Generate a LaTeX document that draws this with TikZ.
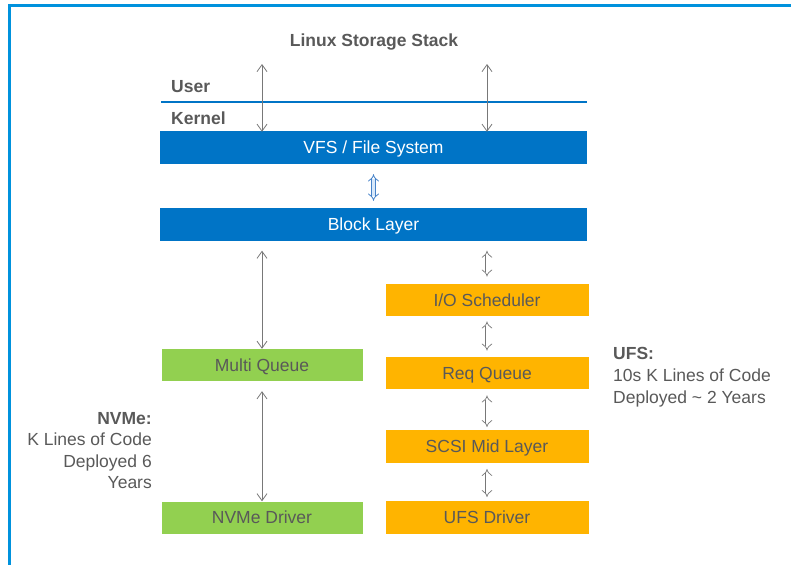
\documentclass[tikz,border=0pt]{standalone}
\usepackage{fontspec}
\setmainfont{Liberation Sans}
\usetikzlibrary{arrows.meta}
\definecolor{frameblue}{RGB}{0,146,221}
\definecolor{boxblue}{RGB}{0,116,198}
\definecolor{boxgreen}{RGB}{146,208,80}
\definecolor{boxorange}{RGB}{255,180,0}
\definecolor{txtgray}{RGB}{89,89,89}
\definecolor{arrgray}{RGB}{120,120,120}
\definecolor{arrblue}{RGB}{70,130,200}
\definecolor{arrbluefill}{RGB}{215,232,250}
\begin{document}
\begin{tikzpicture}[x=1pt,y=-1pt,
  font=\fontsize{17.5}{21.5}\selectfont,
  oneline/.style={text height=12.5pt, text depth=0pt},
  layer/.style={oneline, minimum width=427pt, minimum height=33pt, inner sep=0pt, fill=boxblue, text=white},
  greenbox/.style={oneline, minimum width=201pt, minimum height=32pt, inner sep=0pt, fill=boxgreen, text=txtgray},
  orangebox/.style={oneline, minimum width=203pt, minimum height=32.5pt, inner sep=0pt, fill=boxorange, text=txtgray},
  label/.style={text=txtgray, inner sep=0pt},
  boldlabel/.style={label, oneline, font=\fontsize{17.5}{21.5}\selectfont\bfseries},
  longarr/.style={draw=arrgray, line width=0.8pt, {Straight Barb[length=7pt,width=10pt]}-{Straight Barb[length=7pt,width=10pt]}},
  dblarr/.style={draw=arrgray, line width=0.7pt, double=white, double distance=3pt, {Implies}-{Implies}},
  bluedbl/.style={draw=arrblue, line width=0.8pt, double=arrbluefill, double distance=3pt, {Implies}-{Implies}}
]
\useasboundingbox (0,0) rectangle (791,565);
% frame
\draw[frameblue, line width=3pt] (791,5.5) -- (9.5,5.5) -- (9.5,565);

% title and user/kernel
\node[boldlabel] (title) at (374,40.5) {Linux Storage Stack};
\node[boldlabel, anchor=west] (user) at (171,86) {User};
\node[boldlabel, anchor=west] (kernel) at (171,118) {Kernel};
\coordinate (ukL) at (161,102);
\coordinate (ukR) at (587,102);
\draw[boxblue, line width=2.5pt] (ukL) -- (ukR);

% boxes
\node[layer] (vfs) at (373.5,147) {VFS / File System};
\node[layer] (block) at (373.5,224.5) {Block Layer};
\node[orangebox] (iosched) at (487,300) {I/O Scheduler};
\node[orangebox] (reqq) at (487,373) {Req Queue};
\node[orangebox] (scsi) at (487,446.5) {SCSI Mid Layer};
\node[orangebox] (ufsdrv) at (487,517.5) {UFS Driver};
\node[greenbox] (mq) at (262,365) {Multi Queue};
\node[greenbox] (nvmedrv) at (262,517.5) {NVMe Driver};

% side labels
\node[label, anchor=east, align=right] (nvmetxt) at (152,450.5) {\textbf{NVMe:}\\K Lines of Code\\Deployed 6\\Years};
\node[label, anchor=west, align=left, font=\fontsize{17.5}{22}\selectfont] (ufstxt) at (613,377) {\textbf{UFS:}\\10s K Lines of Code\\Deployed \textasciitilde{} 2 Years};

% arrows
\coordinate (topL) at (262,64);
\coordinate (topR) at (487,64);
\draw[longarr] (topL) -- ([yshift=-1.5pt]vfs.north -| topL);
\draw[longarr] (topR) -- ([yshift=-1.5pt]vfs.north -| topR);
\draw[bluedbl] ([yshift=-10.5pt]vfs.south) -- ([yshift=7pt]block.north);
\draw[longarr] ([yshift=-9.5pt]block.south -| mq) -- (mq.north);
\draw[dblarr] ([yshift=-9.5pt]block.south -| iosched) -- ([yshift=7pt]iosched.north);
\draw[dblarr] ([yshift=-5pt]iosched.south) -- ([yshift=6pt]reqq.north);
\draw[dblarr] ([yshift=-6pt]reqq.south) -- ([yshift=3pt]scsi.north);
\draw[dblarr] ([yshift=-6pt]scsi.south) -- ([yshift=4pt]ufsdrv.north);
\draw[longarr] ([yshift=-10pt]mq.south) -- (nvmedrv.north);
\end{tikzpicture}
\end{document}
